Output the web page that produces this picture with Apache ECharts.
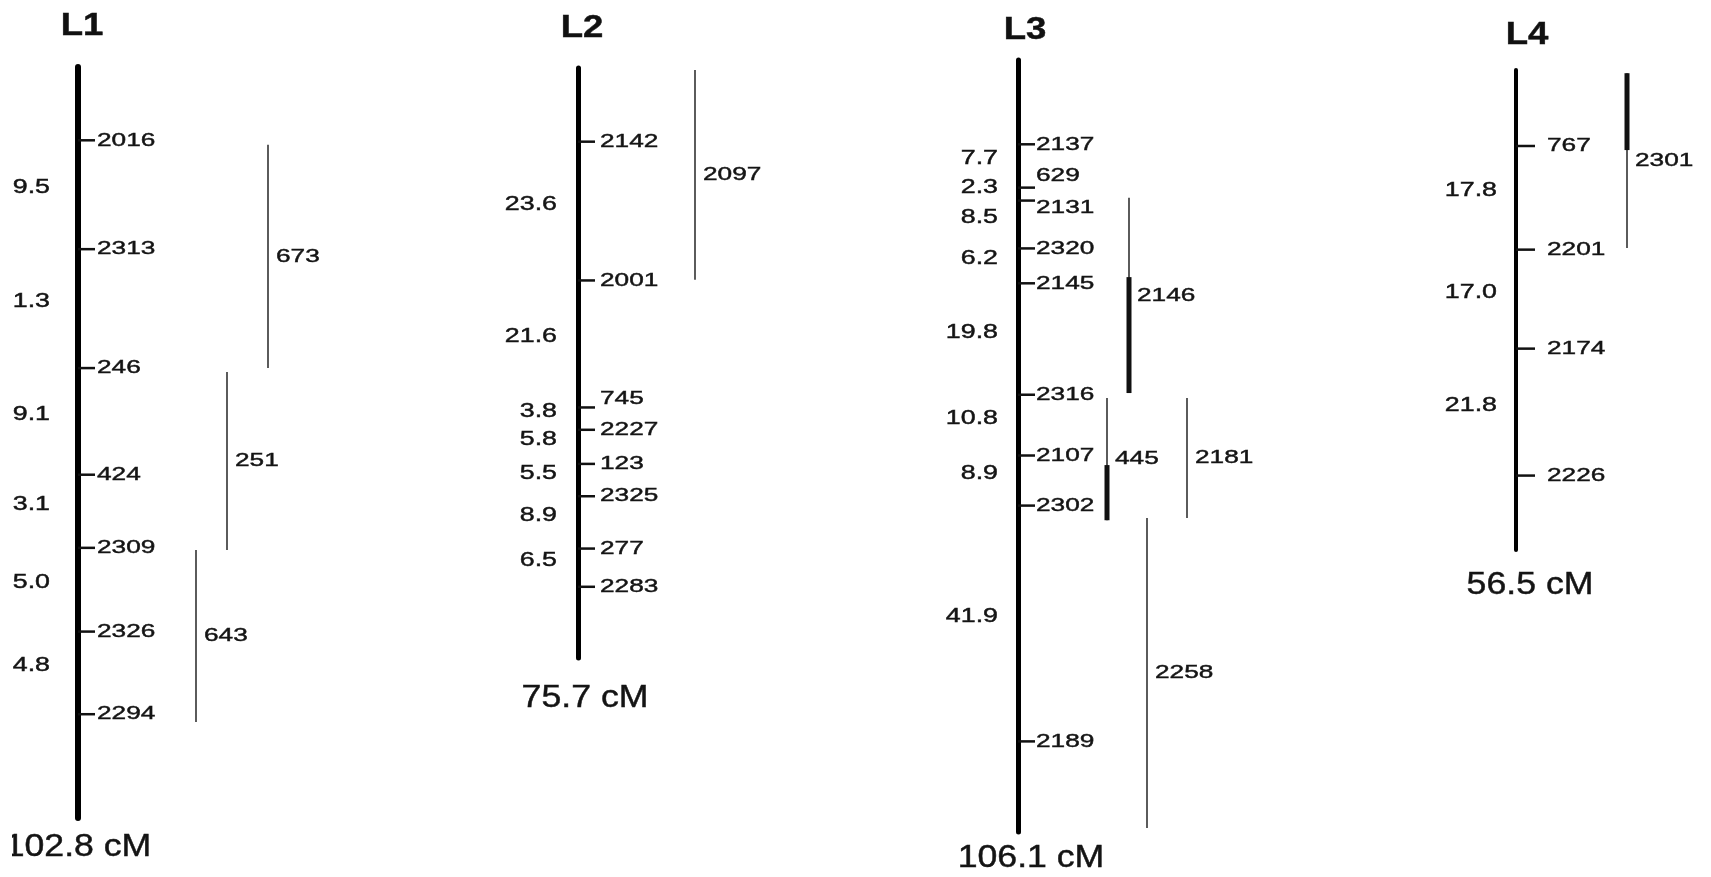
<!DOCTYPE html>
<html>
<head>
<meta charset="utf-8">
<script src="https://cdn.jsdelivr.net/npm/echarts@6/dist/echarts.min.js"></script>
<style>
html,body{margin:0;padding:0;background:#fff;}
#chart{width:1711px;height:877px;}
</style>
</head>
<body>
<div id="chart"></div>
<script>
// ---------------- data ----------------
const groupNames = ['L1', 'L2', 'L3', 'L4'];
const totalLabels = ['102.8 cM', '75.7 cM', '106.1 cM', '56.5 cM'];

const l1Markers = ['2016', '2313', '246', '424', '2309', '2326', '2294'];
const l1Intervals = [19.5, 21.3, 19.1, 13.1, 15.0, 14.8];
const l2Markers = ['2142', '2001', '745', '2227', '123', '2325', '277', '2283'];
const l2Intervals = [23.6, 21.6, 3.8, 5.8, 5.5, 8.9, 6.5];
const l3Markers = ['2137', '629', '2131', '2320', '2145', '2316', '2107', '2302', '2189'];
const l3Intervals = [7.7, 2.3, 8.5, 6.2, 19.8, 10.8, 8.9, 41.9];
const l4Markers = ['767', '2201', '2174', '2226'];
const l4Intervals = [17.8, 17.0, 21.8];

// linkage bars (cM): name, start, end, thick part start/end (null = none)
const l1Bars = ['673', '251', '643'];
const l1BarStart = [0.8, 41.5, 73.4];
const l1BarEnd = [40.8, 73.4, 104.2];
const l1BarThickStart = [null, null, null];
const l1BarThickEnd = [null, null, null];

const l2Bars = ['2097'];
const l2BarStart = [-12.2];
const l2BarEnd = [23.5];
const l2BarThickStart = [null];
const l2BarThickEnd = [null];

const l3Bars = ['2146', '445', '2181', '2258'];
const l3BarStart = [9.5, 45.1, 45.1, 66.4];
const l3BarEnd = [44.2, 66.8, 66.4, 121.5];
const l3BarThickStart = [23.6, 57.0, null, null];
const l3BarThickEnd = [44.2, 66.8, null, null];

const l4Bars = ['2301'];
const l4BarStart = [-12.5];
const l4BarEnd = [17.5];
const l4BarThickStart = [-12.5];
const l4BarThickEnd = [0.7];

// ---------------- assembly ----------------
const markers = [l1Markers, l2Markers, l3Markers, l4Markers];
const intervals = [l1Intervals, l2Intervals, l3Intervals, l4Intervals];
const bars = [
  {names: l1Bars, s: l1BarStart, e: l1BarEnd, ts: l1BarThickStart, te: l1BarThickEnd},
  {names: l2Bars, s: l2BarStart, e: l2BarEnd, ts: l2BarThickStart, te: l2BarThickEnd},
  {names: l3Bars, s: l3BarStart, e: l3BarEnd, ts: l3BarThickStart, te: l3BarThickEnd},
  {names: l4Bars, s: l4BarStart, e: l4BarEnd, ts: l4BarThickStart, te: l4BarThickEnd}
];

// layout / style (pixels)
const layout = [
  {x: 78,   top: 67, bottom: 818, yMin: -13.13, yMax: 121.39, spine: 6, tickLen: 17, labelGap: 19, intGap: 28,
   titleDx: 4, titleDy: 41, totalDx: 0, totalDy: 29, barX: {'673': 190, '251': 149, '643': 118}, nudge: {}},
  {x: 578,  top: 68, bottom: 658, yMin: -12.53, yMax: 87.81, spine: 5, tickLen: 17, labelGap: 22, intGap: 21,
   titleDx: 4, titleDy: 40, totalDx: 7, totalDy: 40, barX: {'2097': 117}, nudge: {'745': -9}},
  {x: 1018, top: 60, bottom: 832, yMin: -14.98, yMax: 122.2, spine: 5, tickLen: 17, labelGap: 18, intGap: 20,
   titleDx: 7, titleDy: 30, totalDx: 13, totalDy: 26, barX: {'2146': 111, '445': 89, '2181': 169, '2258': 129}, nudge: {'629': -12, '2131': 7}},
  {x: 1516, top: 70, bottom: 550, yMin: -13.05, yMax: 69.38, spine: 4, tickLen: 19, labelGap: 31, intGap: 19,
   titleDx: 11, titleDy: 35, totalDx: 14, totalDy: 35, barX: {'2301': 111}, nudge: {}}
];

const FONT = '"Liberation Sans", Arial, Helvetica, sans-serif';
const TEXT = '#141414';

function txt(extra) {
  return Object.assign({fontFamily: FONT, fill: TEXT, stroke: TEXT, lineWidth: 0.45}, extra);
}

function cumulative(arr) {
  const out = [0];
  for (let i = 0; i < arr.length; i++) out.push(Math.round((out[i] + arr[i]) * 100) / 100);
  return out;
}

const grids = [], xAxes = [], yAxes = [], series = [];

groupNames.forEach((g, c) => {
  const L = layout[c];
  grids.push({left: L.x, top: L.top, height: L.bottom - L.top, width: 260, containLabel: false});
  xAxes.push({type: 'value', gridIndex: c, min: 0, max: 1, show: false});
  yAxes.push({
    type: 'value', gridIndex: c, inverse: true, min: L.yMin, max: L.yMax,
    axisLine: {show: true, onZero: false, lineStyle: {color: '#000', width: L.spine}},
    axisTick: {show: false}, axisLabel: {show: false}, splitLine: {show: false}
  });

  const pos = cumulative(intervals[c]);

  // markers with ticks
  series.push({
    type: 'custom', xAxisIndex: c, yAxisIndex: c, clip: false, silent: true,
    data: markers[c].map((m, k) => [0, pos[k], k]),
    renderItem(params, api) {
      const p = api.coord([0, api.value(1)]);
      const name = markers[c][api.value(2)];
      const dy = L.nudge[name] || 0;
      return {type: 'group', children: [
        {type: 'line', shape: {x1: p[0], y1: p[1], x2: p[0] + L.tickLen, y2: p[1]},
         style: {stroke: '#111', lineWidth: 2.5}},
        {type: 'text', x: p[0] + L.labelGap, y: p[1] + dy, scaleX: 1.38,
         style: txt({text: name, fontSize: 19, align: 'left', verticalAlign: 'middle'})}
      ]};
    }
  });

  // interval distances on the left
  series.push({
    type: 'custom', xAxisIndex: c, yAxisIndex: c, clip: false, silent: true,
    data: intervals[c].map((d, k) => [0, (pos[k] + pos[k + 1]) / 2, k]),
    renderItem(params, api) {
      const p = api.coord([0, api.value(1)]);
      const v = intervals[c][api.value(2)];
      return {type: 'text', x: p[0] - L.intGap, y: p[1] - 7, scaleX: 1.34,
        style: txt({text: v.toFixed(1), fontSize: 20, align: 'right', verticalAlign: 'middle'})};
    }
  });

  // linkage bars
  const B = bars[c];
  series.push({
    type: 'custom', xAxisIndex: c, yAxisIndex: c, clip: false, silent: true,
    data: B.names.map((n, k) => [0, B.s[k], k]),
    renderItem(params, api) {
      const k = api.value(2);
      const name = B.names[k];
      const base = api.coord([0, B.s[k]]);
      const xx = base[0] + L.barX[name];
      const y1 = base[1];
      const y2 = api.coord([0, B.e[k]])[1];
      const children = [
        {type: 'line', shape: {x1: xx, y1: y1, x2: xx, y2: y2}, style: {stroke: '#4a4a4a', lineWidth: 1.8}}
      ];
      if (B.ts[k] !== null) {
        const t1 = api.coord([0, B.ts[k]])[1];
        const t2 = api.coord([0, B.te[k]])[1];
        children.push({type: 'line', shape: {x1: xx, y1: t1, x2: xx, y2: t2}, style: {stroke: '#111', lineWidth: 5}});
      }
      children.push({type: 'text', x: xx + 8, y: (y1 + y2) / 2, scaleX: 1.38,
        style: txt({text: name, fontSize: 19, align: 'left', verticalAlign: 'middle'})});
      return {type: 'group', children: children};
    }
  });

  // group title and total length
  series.push({
    type: 'custom', xAxisIndex: c, yAxisIndex: c, clip: false, silent: true,
    data: [[0, 0]],
    renderItem(params, api) {
      const cs = params.coordSys;
      return {type: 'group', children: [
        {type: 'text', x: cs.x + L.titleDx, y: cs.y - L.titleDy, scaleX: 1.18,
         style: txt({text: g, fontSize: 31, fontWeight: 'bold', fill: '#111', stroke: '#111', align: 'center', verticalAlign: 'middle'})},
        {type: 'text', x: cs.x + L.totalDx, y: cs.y + cs.height + L.totalDy, scaleX: 1.15,
         style: txt({text: totalLabels[c], fontSize: 31, align: 'center', verticalAlign: 'middle'})}
      ]};
    }
  });
});

const chart = echarts.init(document.getElementById('chart'), null, {renderer: 'canvas'});
chart.setOption({
  animation: false,
  backgroundColor: '#fff',
  grid: grids,
  xAxis: xAxes,
  yAxis: yAxes,
  series: series,
  graphic: [{type: 'rect', shape: {x: 0, y: 0, width: 12, height: 877}, style: {fill: '#fff'}, z: 100, zlevel: 5, silent: true}]
});
</script>
</body>
</html>
